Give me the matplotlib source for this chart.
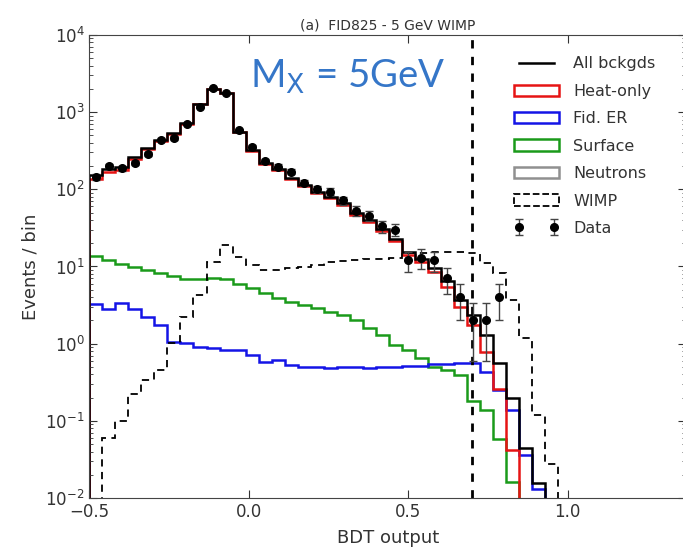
import matplotlib
matplotlib.use('Agg')
import matplotlib.pyplot as plt
from matplotlib.patches import Patch
from matplotlib.lines import Line2D
import numpy as np

# binning of the BDT output
x_lo = -0.5
bin_width = 0.0408

# expected backgrounds per bin
all_bkg = [153, 182, 193, 263, 339, 436, 532, 716, 1276, 1976, 1755, 558, 324, 217,
           182, 138, 114, 93, 80, 66, 49, 40, 31, 23, 15.5, 12.5, 9.5, 6.5, 3.7,
           2.35, 1.29, 0.57, 0.195, 0.044, 0.0155, 0, 0]
heat_only = [136, 167, 179, 250, 328, 426, 523, 708, 1268, 1968, 1747, 551, 318, 212,
             177, 134, 110, 90, 77, 63, 46.5, 38, 29, 21.5, 14, 11.3, 8.5, 5.5, 3.0,
             1.75, 0.79, 0.26, 0.042, 0, 0, 0, 0]
fid_er = [3.27, 2.79, 3.40, 2.79, 2.23, 1.74, 1.04, 1.01, 0.91, 0.87, 0.83, 0.83, 0.71,
          0.58, 0.61, 0.53, 0.50, 0.50, 0.49, 0.50, 0.50, 0.48, 0.50, 0.50, 0.52, 0.52,
          0.55, 0.55, 0.56, 0.56, 0.43, 0.25, 0.138, 0.036, 0.013, 0, 0]
surface = [13.7, 12.1, 10.8, 9.8, 9.0, 8.2, 7.5, 6.95, 6.8, 7.0, 6.8, 6.0, 5.2, 4.5,
           3.9, 3.5, 3.16, 2.87, 2.6, 2.35, 2.03, 1.58, 1.29, 0.96, 0.83, 0.645, 0.50,
           0.456, 0.39, 0.18, 0.138, 0.059, 0.0163, 0, 0, 0, 0]
neutrons = [0.004] * 37   # below the axis range, not visible
wimp = [0, 0.06, 0.1, 0.22, 0.34, 0.456, 1.01, 2.23, 4.27, 11.5, 19, 13.4, 10.5,
        9.0, 9.0, 9.5, 9.8, 10.5, 11.5, 11.8, 12.1, 12.4, 12.6, 12.8, 15, 15, 15.2,
        15.2, 15.2, 15.0, 11.2, 8.2, 3.7, 1.17, 0.119, 0.028, 0]

# observed events
data = [145, 200, 189, 219, 289, 440, 462, 702, 1175, 2040, 1755, 587, 357, 235, 196,
        169, 122, 100, 93, 72, 53, 45, 33, 30, 12, 13, 12, 7, 4, 2, 2, 4]
data_err = [12, 14, 14, 15, 17, 21, 21, 26, 34, 45, 42, 24, 19, 15, 14, 13, 11, 10,
            9.6, 8.5, 7.3, 6.7, 5.7, 5.5, 3.5, 3.6, 3.5, 2.6, 2.0, 1.4, 1.4, 2.0]

bdt_cut = 0.7

edges = x_lo + bin_width * np.arange(len(all_bkg) + 1)
centers = x_lo + bin_width * (np.arange(len(data)) + 0.5)

fig = plt.figure(figsize=(6.83, 5.54), dpi=100)
ax = fig.add_axes([0.131, 0.101, 0.874, 0.836])
ax.set_yscale('log', nonpositive='clip')

lw = 1.8
ax.stairs(neutrons, edges, color='#909090', lw=lw, baseline=1e-4)
ax.stairs(surface, edges, color='#1a9a1a', lw=lw, baseline=1e-4)
ax.stairs(fid_er, edges, color='#1414e6', lw=lw, baseline=1e-4)
ax.stairs(heat_only, edges, color='#e61414', lw=lw, baseline=1e-4)
ax.stairs(all_bkg, edges, color='k', lw=lw, baseline=1e-4)
ax.stairs(wimp, edges, color='k', lw=1.3, ls=(0, (4, 3)), baseline=1e-4)
eb = ax.errorbar(centers, data, yerr=data_err, fmt='o', color='k', ms=5.5,
                 ecolor='#444444', elinewidth=1, capsize=3, zorder=5)

ax.axvline(bdt_cut, color='k', lw=2, ls=(0, (3, 3)))

ax.set_xlim(-0.5, 1.373)
ax.set_ylim(1e-2, 1e4)
ax.set_xticks([-0.5, 0.0, 0.5, 1.0])
ax.tick_params(which='both', direction='in', top=True, right=True, labelsize=12,
               colors='#333333')
ax.tick_params(which='major', length=6)
ax.tick_params(which='minor', length=3)
for s in ax.spines.values():
    s.set_color('#444444')

ax.set_xlabel('BDT output', fontsize=13, color='#333333', labelpad=6)
ax.set_ylabel('Events / bin', fontsize=13, color='#333333')
ax.set_title('(a)  FID825 - 5 GeV WIMP', fontsize=10, color='#333333', pad=4)

ax.text(0.005, 2850, r'M$_\mathrm{X}$ = 5GeV', fontsize=27.5, color='#3576c8',
        family='Lato', va='center')

handles = [
    Line2D([], [], color='k', lw=lw),
    Patch(facecolor='none', edgecolor='#e61414', lw=lw),
    Patch(facecolor='none', edgecolor='#1414e6', lw=lw),
    Patch(facecolor='none', edgecolor='#1a9a1a', lw=lw),
    Patch(facecolor='none', edgecolor='#909090', lw=lw),
    Patch(facecolor='none', edgecolor='k', lw=1.3, ls='--'),
    eb,
]
labels = ['All bckgds', 'Heat-only', 'Fid. ER', 'Surface', 'Neutrons', 'WIMP', 'Data']
leg = ax.legend(handles, labels, loc='upper right', frameon=False, fontsize=11.5,
                numpoints=2, labelspacing=0.78, handlelength=2.8, handletextpad=0.9,
                bbox_to_anchor=(0.972, 0.985))
for t in leg.get_texts():
    t.set_color('#333333')

fig.savefig('out.png', dpi=100)
